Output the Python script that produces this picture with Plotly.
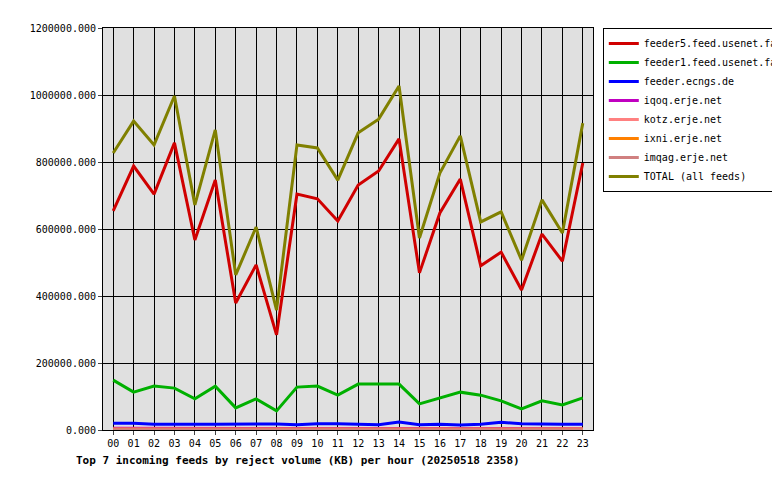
import plotly.graph_objects as go

hours = [f"{h:02d}" for h in range(24)]

feeder5 = [654000, 788000, 704000, 857000, 567000, 746000, 379000, 493000, 284000, 704000, 690000, 624000,
           731000, 773000, 869000, 469000, 648000, 749000, 490000, 531000, 418000, 585000, 504000, 797000]
feeder1 = [149000, 113000, 131000, 125000, 93000, 131000, 66000, 93000, 57000, 128000, 131000, 104000,
           137000, 137000, 137000, 78000, 96000, 113000, 104000, 87000, 63000, 87000, 75000, 96000]
ecngs = [20000, 20000, 17000, 16000, 17000, 17000, 17000, 19000, 18000, 16000, 19000, 19000,
         17000, 16000, 24000, 16000, 17000, 15000, 17000, 23000, 19000, 17000, 17000, 17000]
iqoq = [5000, 5000, 4000, 4000, 4000, 4000, 3000, 4000, 3000, 4000, 5000, 4000,
        4000, 4000, 5000, 3000, 4000, 4000, 4000, 5000, 4000, 4000, 4000, 4000]
kotz = [3000, 3000, 3000, 2000, 2000, 3000, 2000, 2000, 2000, 3000, 3000, 2000,
        3000, 3000, 3000, 2000, 2000, 3000, 2000, 3000, 2000, 2000, 2000, 3000]
ixni = [2000, 2000, 2000, 2000, 1000, 2000, 1000, 1000, 1000, 2000, 2000, 1000,
        2000, 2000, 2000, 1000, 1000, 2000, 1000, 2000, 1000, 1000, 1000, 2000]
imqag = [1000] * 24
total = [827000, 922000, 851000, 997000, 672000, 896000, 463000, 606000, 358000, 851000, 842000, 746000,
         887000, 928000, 1027000, 573000, 767000, 878000, 621000, 651000, 507000, 687000, 588000, 916000]

series = [
    ("feeder5.feed.usenet.farm", feeder5, "#d00000"),
    ("feeder1.feed.usenet.farm", feeder1, "#00b000"),
    ("feeder.ecngs.de", ecngs, "#0000ff"),
    ("iqoq.erje.net", iqoq, "#c000c0"),
    ("kotz.erje.net", kotz, "#ff8080"),
    ("ixni.erje.net", ixni, "#ff8000"),
    ("imqag.erje.net", imqag, "#d08080"),
    ("TOTAL (all feeds)", total, "#808000"),
]

fig = go.Figure()
for name, vals, color in series:
    fig.add_trace(go.Scatter(x=hours, y=vals, mode="lines", name=name,
                             line=dict(color=color, width=3)))

fig.update_layout(
    width=780, height=480,
    margin=dict(l=95, r=195, t=20, b=58, autoexpand=False),
    paper_bgcolor="white", plot_bgcolor="#e0e0e0",
    font=dict(family="DejaVu Sans Mono", size=10, color="black"),
    showlegend=True,
    legend=dict(x=1.02, y=1, xanchor="left", yanchor="top", bordercolor="black",
                borderwidth=1, bgcolor="white", font=dict(size=10), tracegroupgap=0,
                itemwidth=30),
    annotations=[dict(text="<b>Top 7 incoming feeds by reject volume (KB) per hour (20250518 2358)</b>",
                      xref="paper", yref="paper", x=-0.06, y=-0.055, xanchor="left", yanchor="top",
                      showarrow=False, font=dict(size=11))],
)
fig.update_xaxes(type="category", range=[-0.5, 23.5], showgrid=True, gridcolor="black", gridwidth=1,
                 showline=True, linecolor="black", mirror=True, ticks="outside", ticklen=4, zeroline=False)
fig.update_yaxes(range=[0, 1200000], dtick=200000, tickformat=".3f", showgrid=True, gridcolor="black",
                 gridwidth=1, showline=True, linecolor="black", mirror=True, ticks="outside", ticklen=4,
                 zeroline=False)

fig.write_html("out.html")
